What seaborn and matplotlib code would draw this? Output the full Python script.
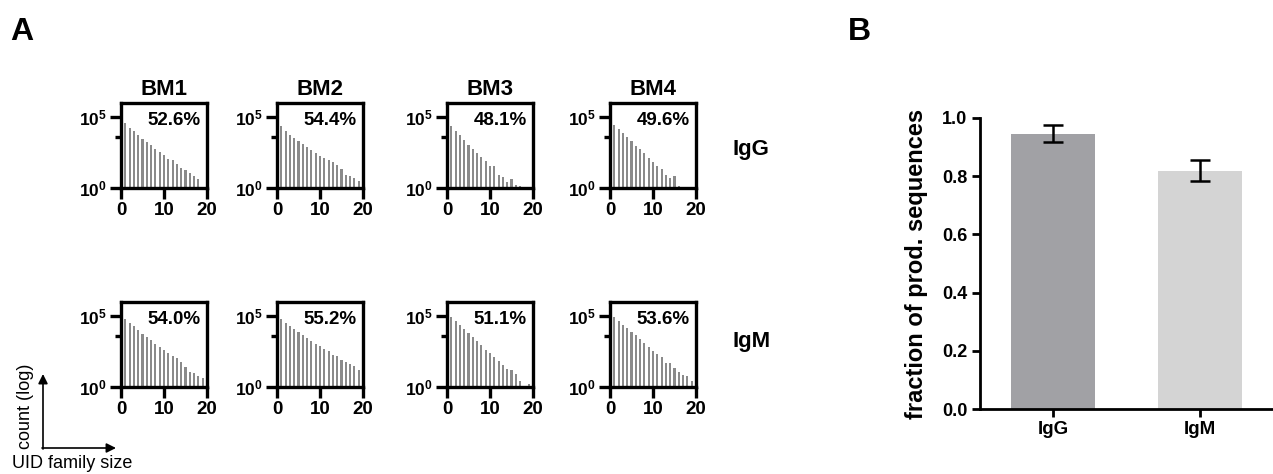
import numpy as np
import pandas as pd
import matplotlib
matplotlib.use("Agg")
import matplotlib.pyplot as plt
import seaborn as sns

# ---- data ----
samples = ["BM1", "BM2", "BM3", "BM4"]
isotypes = ["IgG", "IgM"]
pct_igg = ["52.6%", "54.4%", "48.1%", "49.6%"]
pct_igm = ["54.0%", "55.2%", "51.1%", "53.6%"]
family_size = list(range(1, 20))

# log10(count) per UID family size (None = no bar)
bm1_igg = [4.58, 4.23, 4.00, 3.74, 3.49, 3.26, 3.02, 2.77, 2.56, 2.33, 2.02, 1.98, 1.70, 1.40, 1.28, 1.09, 0.86, 0.63, None]
bm2_igg = [4.36, 4.00, 3.77, 3.54, 3.35, 3.14, 2.90, 2.71, 2.48, 2.29, 2.12, 1.96, 1.82, 1.65, 1.37, 0.94, 0.87, 0.71, 0.52]
bm3_igg = [4.36, 4.00, 3.73, 3.42, 3.07, 2.78, 2.48, 2.19, 1.89, 1.58, 1.58, 0.94, 0.78, 0.40, 0.64, 0.24, 0.17, None, None]
bm4_igg = [4.48, 4.13, 3.89, 3.58, 3.30, 2.99, 2.76, 2.48, 2.12, 1.82, 1.58, 1.34, 0.94, 0.71, 0.83, 0.17, None, None, None]
bm1_igm = [4.81, 4.51, 4.28, 4.05, 3.77, 3.53, 3.30, 3.07, 2.84, 2.60, 2.42, 2.21, 2.02, 1.79, 1.40, 1.09, 0.98, 0.79, 0.63]
bm2_igm = [4.83, 4.53, 4.29, 4.10, 3.89, 3.70, 3.47, 3.28, 3.04, 2.88, 2.69, 2.52, 2.29, 2.17, 1.93, 1.75, 1.65, 1.46, 1.23]
bm3_igm = [4.95, 4.65, 4.41, 4.10, 3.82, 3.54, 3.23, 3.00, 2.64, 2.41, 2.12, 1.82, 1.58, 1.27, 1.18, 0.94, 0.40, None, 0.24]
bm4_igm = [4.93, 4.63, 4.40, 4.16, 3.88, 3.65, 3.42, 3.12, 2.84, 2.56, 2.33, 2.09, 1.72, 1.72, 1.33, 1.09, 0.86, 0.79, 0.40]

frac_mean = [0.946, 0.817]
frac_low = [0.918, 0.783]
frac_high = [0.975, 0.855]

# ---- long table ----
series = {("IgG", "BM1"): bm1_igg, ("IgG", "BM2"): bm2_igg, ("IgG", "BM3"): bm3_igg, ("IgG", "BM4"): bm4_igg,
          ("IgM", "BM1"): bm1_igm, ("IgM", "BM2"): bm2_igm, ("IgM", "BM3"): bm3_igm, ("IgM", "BM4"): bm4_igm}
rows = []
for (iso, s), vals in series.items():
    for x, v in zip(family_size, vals):
        if v is not None:
            rows.append({"isotype": iso, "sample": s, "size": x, "count": 10 ** v})
df = pd.DataFrame(rows)

sns.set_style("white")
plt.rcParams["font.family"] = ["Liberation Sans", "DejaVu Sans"]
plt.rcParams["mathtext.fontset"] = "custom"
plt.rcParams["mathtext.rm"] = "Liberation Sans"
plt.rcParams["mathtext.bf"] = "Liberation Sans:bold"
for k in ["text.color", "axes.labelcolor", "xtick.color", "ytick.color", "axes.edgecolor"]:
    plt.rcParams[k] = "black"

W, H = 1273, 474
fig = plt.figure(figsize=(W / 100, H / 100), dpi=100)


def box(left, top, w, h):
    return [left / W, 1 - (top + h) / H, w / W, h / H]


lefts = [121, 277, 447, 610]
tops = {"IgG": 103, "IgM": 302}
pcts = {"IgG": pct_igg, "IgM": pct_igm}
bar_grey = "#8a8a8a"

for iso in isotypes:
    for j, s in enumerate(samples):
        ax = fig.add_axes(box(lefts[j], tops[iso], 86, 85))
        d = df[(df["isotype"] == iso) & (df["sample"] == s)]
        sns.barplot(data=d, x="size", y="count", native_scale=True, width=0.5,
                    color=bar_grey, saturation=1, errorbar=None, linewidth=0, ax=ax)
        ax.set_yscale("log")
        ax.set_ylim(1, 1e6)
        ax.set_xlim(0, 20)
        ax.set_xlabel("")
        ax.set_ylabel("")
        ax.set_xticks([0, 10, 20])
        ax.set_xticklabels(["0", "10", "20"], fontsize=13.5, fontweight="bold")
        ax.set_yticks([1, 1e5])
        ax.set_yticklabels([r"$\mathbf{10^0}$", r"$\mathbf{10^5}$"], fontsize=12.5)
        ax.set_yticks([10 ** 3.6], minor=True)
        ax.set_xticks([], minor=True)
        ax.tick_params(which="major", left=True, bottom=True, direction="out",
                       length=8, width=2.4, pad=2, colors="black")
        ax.tick_params(axis="y", which="minor", left=True, direction="out",
                       length=4, width=2.4, colors="black")
        for sp in ax.spines.values():
            sp.set_linewidth(2.4)
            sp.set_color("black")
        ax.text(0.93, 0.74, pcts[iso][j], transform=ax.transAxes, ha="right",
                va="baseline", fontsize=13.5, fontweight="bold", color="black")
        if iso == "IgG":
            ax.set_title(s, fontsize=16, fontweight="bold", pad=5.5, color="black")

# ---- panel B ----
axb = fig.add_axes(box(980, 118, 293, 291))
sns.barplot(x=isotypes, y=frac_mean, hue=isotypes, palette=["#a1a1a5", "#d4d4d4"],
            width=0.57, saturation=1, legend=False, linewidth=0, ax=axb)
yerr = [np.array(frac_mean) - np.array(frac_low), np.array(frac_high) - np.array(frac_mean)]
axb.errorbar(x=[0, 1], y=frac_mean, yerr=yerr, fmt="none", ecolor="black",
             elinewidth=1.8, capsize=7, capthick=1.8)
axb.set_ylim(0, 1.0)
axb.set_xlim(-0.5, 1.5)
axb.set_yticks([0, 0.2, 0.4, 0.6, 0.8, 1.0])
axb.set_yticklabels(["0.0", "0.2", "0.4", "0.6", "0.8", "1.0"], fontsize=13, fontweight="bold")
axb.set_xticks([0, 1])
axb.set_xticklabels(isotypes, fontsize=13.5, fontweight="bold")
axb.tick_params(left=True, bottom=True, direction="out", length=6, width=2, pad=3, colors="black")
axb.set_ylabel("fraction of prod. sequences", fontsize=17, fontweight="bold", labelpad=10, color="black")
sns.despine(ax=axb)
for sp in ["left", "bottom"]:
    axb.spines[sp].set_linewidth(2)
    axb.spines[sp].set_color("black")

# ---- overlay text and arrows ----
ov = fig.add_axes([0, 0, 1, 1])
ov.axis("off")
ov.set_xlim(0, W)
ov.set_ylim(H, 0)
ov.text(10, 40, "A", fontsize=23, fontweight="bold", ha="left", va="baseline")
ov.text(848, 40, "B", fontsize=23, fontweight="bold", ha="left", va="baseline")
ov.text(733, 150, "IgG", fontsize=16, fontweight="bold", ha="left", va="center")
ov.text(733, 342, "IgM", fontsize=16, fontweight="bold", ha="left", va="center")
ov.annotate("", xy=(43, 374), xytext=(43, 449),
            arrowprops=dict(arrowstyle="-|>", lw=1.2, color="black", mutation_scale=14, shrinkA=0, shrinkB=0))
ov.annotate("", xy=(116, 448), xytext=(42, 448),
            arrowprops=dict(arrowstyle="-|>", lw=1.2, color="black", mutation_scale=14, shrinkA=0, shrinkB=0))
ov.text(26, 406, "count (log)", fontsize=13, rotation=90, ha="center", va="center")
ov.text(12, 463, "UID family size", fontsize=13, ha="left", va="center")

fig.savefig("out.png", dpi=100)
